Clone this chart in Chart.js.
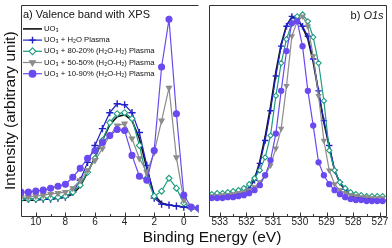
<!DOCTYPE html>
<html><head><meta charset="utf-8">
<script src="https://cdn.jsdelivr.net/npm/chart.js@4.4.1/dist/chart.umd.min.js"></script>
<style>
html,body{margin:0;padding:0;background:#fff;}
#wrap{position:relative;width:392px;height:248px;overflow:hidden;background:#fff;}
canvas{position:absolute;top:0;}
#c1{left:0;} #c2{left:204px;}
#xt{position:absolute;top:228px;left:212px;transform:translateX(-50%);font:15.5px 'Liberation Sans',Arial,sans-serif;color:#111;white-space:nowrap;line-height:18px;}
</style></head><body>
<div id="wrap">
<canvas id="c1" width="204" height="248"></canvas>
<canvas id="c2" width="188" height="248"></canvas>
<div id="xt">Binding Energy (eV)</div>
</div>
<script>
// ---------- data ----------
const seriesLabels = ['UO₃','UO₃ + H₂O Plasma','UO₃ + 80-20% (H₂O-H₂) Plasma','UO₃ + 50-50% (H₂O-H₂) Plasma','UO₃ + 10-90% (H₂O-H₂) Plasma'];

// a) valence band (binding energy, eV)
const energyVB = [11,10.5,10,9.5,9,8.5,8,7.5,7,6.5,6,5.5,5,4.5,4,3.5,3,2.5,2,1.5,1,0.5,0,-0.5,-1];
const uo3VB     = [16,16,16,17,17,18,19,22,30,44,59,76,92,100,102,96,78,48,21,13,11,10,9,8,7];
const h2oVB     = [17,17,17,17,17,18,19,24,36,54,71,88,104,113,112,104,84,51,18,12,11,10,9,8,7];
const mix8020VB = [17,17,17,18,18,19,20,24,31,44,58,76,94,103,104,98,71,38,20,25,38,28,13,8,7];
const mix5050VB = [19,19,20,21,22,23,24,28,36,46,56,68,81,91,93,78,58,44,64,96,129,59,16,8,7];
const mix1090VB = [24,24,25,26,28,30,32,39,48,58,66,74,81,87,86,61,40,36,66,150,198,103,21,9,8];

// b) O1s (binding energy, eV)
const energyO1s = [533.3,533.1,532.9,532.7,532.5,532.3,532.1,531.9,531.7,531.5,531.3,531.1,530.9,530.7,530.5,530.3,530.1,529.9,529.7,529.5,529.3,529.1,528.9,528.7,528.5,528.3,528.1,527.9,527.7,527.5,527.3,527.1,526.9];
const uo3O1s     = [19,19,20,20,21,22,23,28,37,55,80,110,145,173,192,200,198,190,178,155,124,94,70,46,33,26,21,19,18,17,17,16,16];
const h2oO1s     = [19,19,20,20,21,22,23,28,36,53,76,106,141,171,191,201,199,191,181,158,126,96,71,46,34,27,22,19,18,17,17,16,16];
const mix8020O1s = [22,23,23,24,25,26,28,32,38,46,59,81,121,154,178,194,201,203,196,180,154,116,66,46,34,28,24,22,21,20,20,20,20];
const mix5050O1s = [20,20,21,21,22,23,24,26,29,34,41,51,68,88,131,181,196,201,191,161,121,76,46,32,26,23,21,20,19,19,18,18,18];
const mix1090O1s = [18,18,18,19,19,20,21,23,26,31,41,56,83,126,166,194,196,171,126,91,54,41,32,26,22,19,17,16,16,15,15,15,15];

// tick labels
const ticksVB  = [10,8,6,4,2,0];
const minorVB  = [9,7,5,3,1];
const ticksO1s = [533,532,531,530,529,528,527];
const minorO1s = [532.5,531.5,530.5,529.5,528.5,527.5];

// ---------- styles ----------
const FONT = "'Liberation Sans', Arial, sans-serif";
Chart.defaults.font.family = FONT;
Chart.defaults.color = '#222';
const colors = ['#111111','#2020c8','#1d9e80','#8c8c8c','#6a4af0'];
const styles = [
  {ps:'circle',   rot:0,   bg:'#111111'},
  {ps:'cross',    rot:0,   bg:'#2020c8'},
  {ps:'rectRot',  rot:0,   bg:'#ffffff'},
  {ps:'triangle', rot:180, bg:'#8c8c8c'},
  {ps:'circle',   rot:0,   bg:'#6a4af0'}
];

function makeDatasets(energy, series, r) {
  return series.map((vals, i) => ({
    label: seriesLabels[i],
    data: vals.map((v, k) => ({x: energy[k], y: v})),
    borderColor: colors[i],
    backgroundColor: styles[i].bg,
    borderWidth: i === 0 ? 1.6 : 1.2,
    pointStyle: styles[i].ps,
    pointRadius: i === 0 ? 0 : (i === 1 ? r + 0.6 : r),
    pointRotation: styles[i].rot,
    pointBorderWidth: i === 1 ? 1.4 : 1.1,
    pointBorderColor: colors[i],
    pointBackgroundColor: styles[i].bg,
    tension: 0,
    order: 5 - i
  }));
}

const decor = {
  id: 'decor',
  afterDatasetsDraw(chart, args, o) {
    const ctx = chart.ctx, a = chart.chartArea, xs = chart.scales.x;
    const L = Math.round(a.left) + 0.5, R = Math.round(a.right) - 0.5, T = Math.round(a.top) + 0.5, B = Math.round(a.bottom) + 0.5;
    ctx.save();
    ctx.strokeStyle = '#333';
    ctx.lineWidth = 1;
    ctx.beginPath();
    ctx.moveTo(L, B); ctx.lineTo(R, B);
    ctx.moveTo(L, B); ctx.lineTo(L, T); ctx.lineTo(R, T);
    if (o.rightBorder) { ctx.lineTo(R, B); }
    o.major.forEach(v => { const p = Math.round(xs.getPixelForValue(v)) + 0.5; ctx.moveTo(p, B); ctx.lineTo(p, B - 4); });
    o.minor.forEach(v => { const p = Math.round(xs.getPixelForValue(v)) + 0.5; ctx.moveTo(p, B); ctx.lineTo(p, B - 2.5); });
    ctx.stroke();

    ctx.fillStyle = '#111';
    ctx.textBaseline = 'middle';
    if (o.title) {
      ctx.font = '11px ' + FONT;
      ctx.textAlign = 'left';
      ctx.fillText(o.title, a.left + 2, a.top + 9.5);
    }
    if (o.titleRight) {
      ctx.font = '11px ' + FONT;
      const w1 = ctx.measureText(o.titleRight[0]).width;
      ctx.font = 'italic 11px ' + FONT;
      const w2 = ctx.measureText(o.titleRight[1]).width;
      const x0 = a.right - 3 - w1 - w2;
      ctx.textAlign = 'left';
      ctx.font = '11px ' + FONT;
      ctx.fillText(o.titleRight[0], x0, a.top + 11);
      ctx.font = 'italic 11px ' + FONT;
      ctx.fillText(o.titleRight[1], x0 + w1, a.top + 11);
    }
    if (o.legend) {
      const ds = chart.data.datasets;
      ctx.font = '7.7px ' + FONT;
      ds.forEach((d, i) => {
        const y = a.top + 23.5 + i * 11.2;
        const x1 = a.left + 2, x2 = a.left + 21;
        ctx.strokeStyle = d.borderColor;
        ctx.lineWidth = d.borderWidth;
        ctx.beginPath(); ctx.moveTo(x1, y); ctx.lineTo(x2, y); ctx.stroke();
        if (d.pointRadius > 0 && Chart.helpers && Chart.helpers.drawPoint) {
          ctx.fillStyle = d.pointBackgroundColor;
          ctx.lineWidth = d.pointBorderWidth;
          Chart.helpers.drawPoint(ctx, {pointStyle: d.pointStyle, radius: 3.4, rotation: d.pointRotation, borderWidth: d.pointBorderWidth}, (x1 + x2) / 2, y);
        }
        ctx.fillStyle = '#111';
        ctx.textAlign = 'left';
        ctx.fillText(d.label, x2 + 2, y);
      });
    }
    ctx.restore();
  }
};

function xScale(min, max, ticks) {
  return {
    type: 'linear', min: min, max: max, reverse: true,
    grid: {display: false, drawTicks: false},
    border: {display: false},
    ticks: {font: {size: 10}, color: '#222', padding: 0, autoSkip: false, maxRotation: 0},
    afterBuildTicks: s => { s.ticks = ticks.map(v => ({value: v})); },
    afterFit: s => { s.height = 32; }
  };
}

new Chart(document.getElementById('c1'), {
  type: 'line',
  data: {datasets: makeDatasets(energyVB, [uo3VB, h2oVB, mix8020VB, mix5050VB, mix1090VB], 3.0)},
  options: {
    responsive: false, animation: false, devicePixelRatio: 1,
    layout: {padding: {top: 4, right: 2, left: 0, bottom: 0}},
    plugins: {
      legend: {display: false}, tooltip: {enabled: false},
      decor: {major: ticksVB, minor: minorVB, title: 'a) Valence band with XPS', legend: true, rightBorder: false}
    },
    scales: {
      x: xScale(-1, 11, ticksVB),
      y: {
        min: 0, max: 212,
        grid: {display: false, drawTicks: false}, border: {display: false},
        ticks: {display: false},
        title: {display: true, text: 'Intensity (arbitrary unit)', font: {size: 15.5}, color: '#111', padding: {top: 1, bottom: 0}},
        afterFit: s => { s.width = 21; }
      }
    }
  },
  plugins: [decor]
});

new Chart(document.getElementById('c2'), {
  type: 'line',
  data: {datasets: makeDatasets(energyO1s, [uo3O1s, h2oO1s, mix8020O1s, mix5050O1s, mix1090O1s], 2.6)},
  options: {
    responsive: false, animation: false, devicePixelRatio: 1,
    layout: {padding: {top: 4, right: 2, left: 0, bottom: 0}},
    plugins: {
      legend: {display: false}, tooltip: {enabled: false},
      decor: {major: ticksO1s, minor: minorO1s, titleRight: ['b) ', 'O1s'], rightBorder: true}
    },
    scales: {
      x: xScale(526.75, 533.39, ticksO1s),
      y: {display: false, min: 0, max: 212}
    }
  },
  plugins: [decor]
});
</script>
</body></html>
